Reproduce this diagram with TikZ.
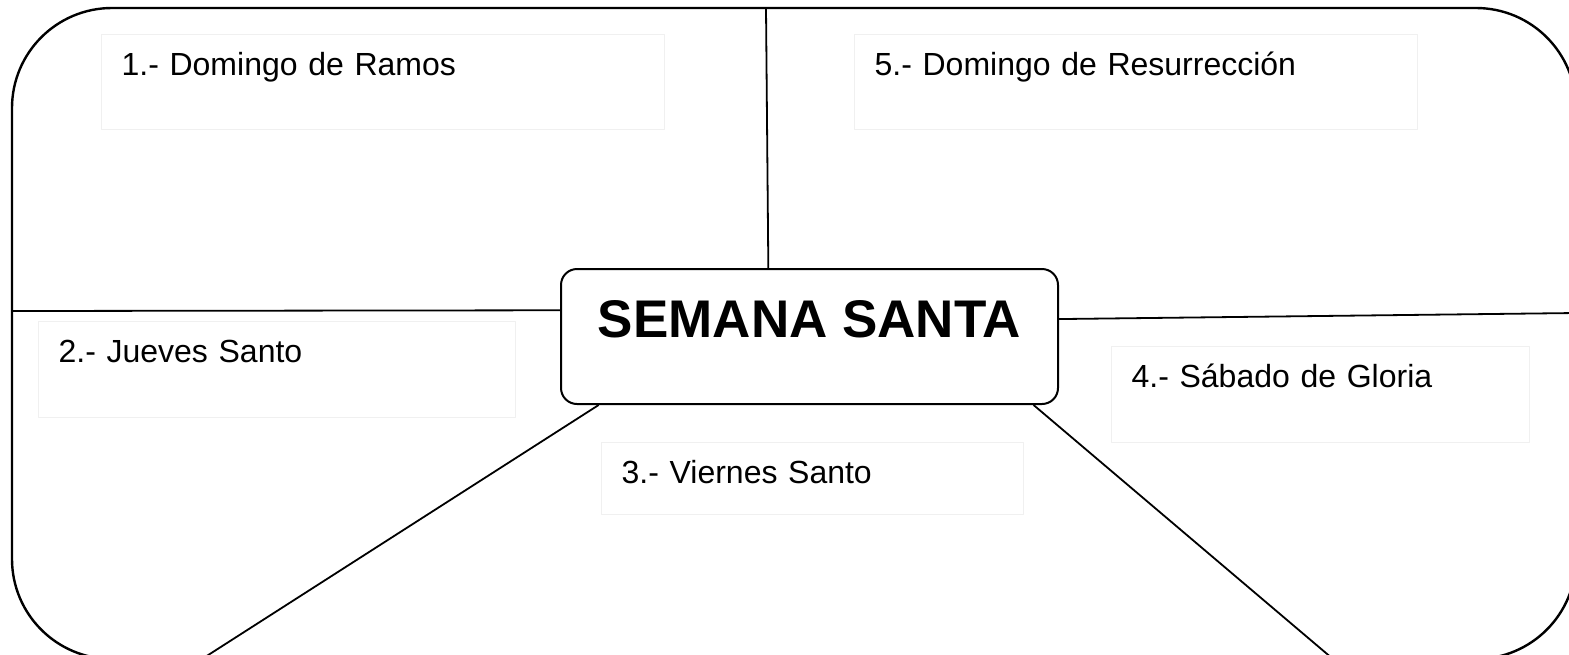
\documentclass[tikz,border=0pt]{standalone}
\usepackage{fontspec}
\setmainfont{Liberation Sans}
\usetikzlibrary{positioning}
\def\pxu{0.5pt}

\begin{document}
\begin{tikzpicture}[x=\pxu, y=-\pxu, line join=round]
    \tikzstyle{frame}=[draw=black, line width=1.2pt, rounded corners=50pt]
    \tikzstyle{hub}=[draw=black, line width=1pt, rounded corners=8pt, inner sep=0pt, minimum width=248.5pt, text height=34pt, text depth=33.5pt, font=\bfseries\fontsize{26.5pt}{30pt}\selectfont]
    \tikzstyle{day}=[draw=black!6, line width=0.6pt, anchor=north west, inner xsep=10pt, inner ysep=8.5pt, text height=12pt, align=left, font=\fontsize{16pt}{19pt}\selectfont]
    \tikzstyle{spoke}=[draw=black, line width=0.9pt]

    \useasboundingbox (0,0) rectangle (1569,654);
    \clip (0,0) rectangle (1569,654);

    \draw[frame] (12,8) rectangle (1576,659);

    \node[hub, anchor=north] (semana) at (809.5,268) {SEMANA SANTA};

    \node[day, text width=261.5pt, text depth=18.5pt] (ramos) at (101,34) {1.- Domingo de Ramos};
    \node[day, text width=218.5pt, text depth=19pt] (jueves) at (38,321) {2.- Jueves Santo};
    \node[day, text width=191pt, text depth=7pt] (viernes) at (601,442) {3.- Viernes Santo};
    \node[day, text width=189pt, text depth=19pt] (sabado) at (1111,346) {4.- Sábado de Gloria};
    \node[day, text width=261.5pt, text depth=18.5pt] (resurreccion) at (854,34) {5.- Domingo de Resurrección};

    % ends of the spokes on the frame
    \coordinate (fT) at (766,8);
    \coordinate (fL) at (12,311);
    \coordinate (fR) at (1576,313);
    \coordinate (fBL) at (202,659);
    \coordinate (fBR) at (1333,659);

    \foreach \a/\e in {121.6/fT, 174.4/fL, 4.03/fR, 198.8/fBL, 343.05/fBR}
        \draw[spoke] (semana.\a) -- (\e);
\end{tikzpicture}
\end{document}
